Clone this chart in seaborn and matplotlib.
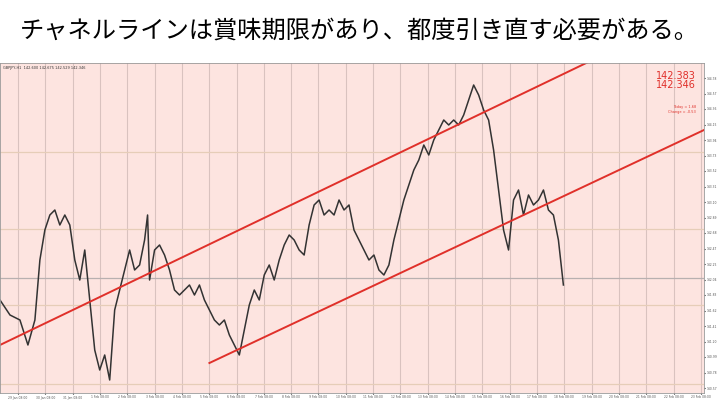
import matplotlib
matplotlib.use("Agg")
import matplotlib.pyplot as plt
import seaborn as sns
import pandas as pd
import numpy as np

# price trace (x position, level = height above chart bottom)
xs = [0,10,20,28,35,40,45,50,55,60,65,70,75,80,85,90,95,100,105,110,115,120,125,130,135,140,145,148,150,155,160,165,170,175,180,185,190,195,200,205,210,215,220,225,230,235,240,245,250,255,260,265,270,275,280,285,290,295,300,305,310,315,320,325,330,335,340,345,350,355,360,365,370,375,380,385,390,395,400,405,410,415,420,425,430,435,440,445,450,455,460,465,470,475,480,485,490,495,500,505,510,515,520,525,530,535,540,545,550,555,560,565]
ys_px = [300,315,320,345,320,260,230,215,210,225,215,225,260,280,250,300,350,370,355,380,310,290,270,250,270,265,240,215,280,250,245,255,270,290,295,290,285,295,285,300,310,320,325,320,335,345,355,330,305,290,300,275,265,280,260,245,235,240,250,255,225,205,200,215,210,215,200,210,205,230,240,250,260,255,270,275,265,240,220,200,185,170,160,145,155,140,130,120,125,120,125,115,100,85,95,110,120,150,190,230,250,200,190,215,195,205,200,190,210,215,240,285]
levels = [393 - v for v in ys_px]
upper_line = [(0, 393-345), (590, 393-62)]
lower_line = [(210, 393-363), (706, 393-130)]
hlines_olive = [393-152, 393-229, 393-305, 393-384]
hline_dark = 393-278
date_labels = ["29 Jan","30 Jan","31 Jan","1 Feb","2 Feb","3 Feb","4 Feb","5 Feb","6 Feb","7 Feb","8 Feb","9 Feb","10 Feb","11 Feb","12 Feb","13 Feb","14 Feb","15 Feb","16 Feb","17 Feb","18 Feb","19 Feb","20 Feb","21 Feb","22 Feb","23 Feb"]

df = pd.DataFrame({"x": xs, "level": levels})
fig = plt.figure(figsize=(7.2, 4.05), dpi=100)
fig.patch.set_facecolor("white")
ax = fig.add_axes([0, 12/405, 704/720, 330/405])
ax.set_facecolor("#FDE4E0")
for i in range(26):
    ax.axvline(18 + i*27.4, color="#D9C2BF", lw=0.8)
for h in hlines_olive:
    ax.axhline(h, color="#E6CDB8", lw=0.9)
ax.axhline(hline_dark, color="#B8B0B0", lw=0.9)
sns.lineplot(data=df, x="x", y="level", ax=ax, color="#333333", lw=1.1)
for (a, b) in (upper_line, lower_line):
    ax.plot([a[0], b[0]], [a[1], b[1]], color="#E0302A", lw=1.4)
ax.set_xlim(0, 706)
ax.set_ylim(0, 330)
ax.set_xlabel(""); ax.set_ylabel("")
ax.yaxis.tick_right()
yt = np.arange(5, 330, 15.5)
ax.set_yticks(yt)
ax.set_yticklabels([f"{140.5 + v*0.0136:.2f}" for v in yt], fontsize=2.2, color="#555")
ax.set_xticks([18 + i*27.4 for i in range(26)])
ax.set_xticklabels([d + " 08:00" for d in date_labels], fontsize=2.2, color="#555")
ax.tick_params(length=1, pad=0.8)
for s in ax.spines.values():
    s.set_color("#999"); s.set_linewidth(0.6)
ax.text(698, 322, "142.383\n142.346", color="#E0302A", fontsize=7, ha="right", va="top", linespacing=0.9)
ax.text(698, 288, "Today = 1.68\nChange = -0.53", color="#E0302A", fontsize=2.5, ha="right", va="top")
ax.text(3, 327, "GBPJPY,H1  142.600 142.675 142.529 142.346", fontsize=2.5, color="#333", va="top")
fig.text(0.028, 0.925, "チャネルラインは賞味期限があり、都度引き直す必要がある。",
         fontsize=17.5, family=["Noto Sans CJK JP", "DejaVu Sans"], va="center")
fig.savefig("out.png", dpi=100)
